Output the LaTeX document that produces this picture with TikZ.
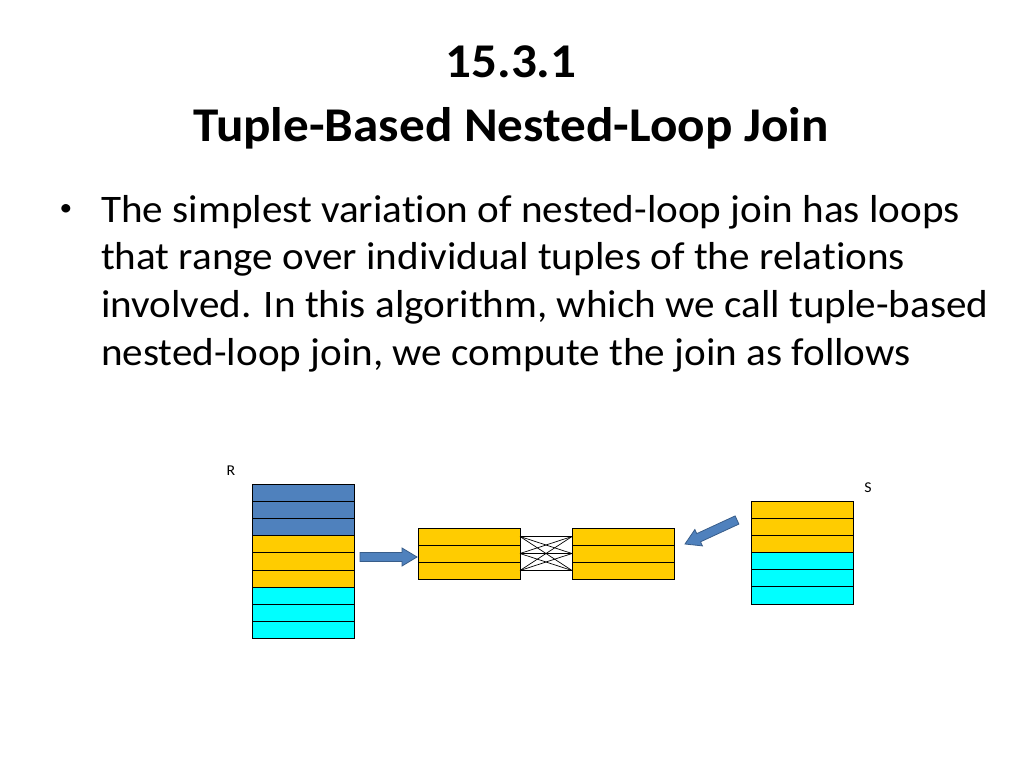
\documentclass[tikz,border=0pt]{standalone}
\usepackage{fontspec}
\setmainfont[FakeStretch=1.055, Ligatures=NoCommon]{Carlito}
\usetikzlibrary{calc}
\definecolor{tblue}{HTML}{4F81BD}
\definecolor{tblueline}{HTML}{385D8A}
\definecolor{tgold}{HTML}{FFCC00}
\definecolor{tcyan}{HTML}{00FFFF}
\tikzset{
  row/.style={draw=black, line width=0.9pt, minimum width=102pt, minimum height=17.2pt, inner sep=0pt, outer sep=0pt},
  bodytext/.style={anchor=base west, inner sep=0pt, font=\fontsize{39}{47}\selectfont},
  titletext/.style={anchor=base, inner sep=0pt, font=\fontsize{48.5}{56}\selectfont\bfseries},
  lbl/.style={inner sep=0pt, font=\fontsize{15}{18}\selectfont},
  bulletmark/.style={inner sep=0pt, font=\fontsize{24}{26}\selectfont},
  blockarrow/.style={fill=tblue, draw=tblueline, line width=0.8pt, line join=miter},
  cross/.style={draw=black, line width=0.7pt}
}
\newcommand{\blkarrow}[2]{%
  \coordinate (ba-h) at ($(#2)!15pt!(#1)$);
  \path[blockarrow] ($(#1)!4.5pt!90:(#2)$) -- ($(ba-h)!4.5pt!-90:(#1)$) -- ($(ba-h)!9pt!-90:(#1)$) -- (#2)
     -- ($(ba-h)!9pt!90:(#1)$) -- ($(ba-h)!4.5pt!90:(#1)$) -- ($(#1)!4.5pt!-90:(#2)$) -- cycle;}
\begin{document}
\begin{tikzpicture}[x=1pt,y=-1pt]
\useasboundingbox[fill=white] (0,0) rectangle (1024,768);
% title
\node[titletext] (t1) at (511,77.5) {15.3.1};
\node[titletext] (t2) at (511,141) {Tuple-Based Nested-Loop Join};
% bullet
\node[bulletmark] (bul) at (66,210) {•};
\node[bodytext] (l1) at (101,222) {The simplest variation of nested-loop join has loops};
\node[bodytext] (l2) at (101,269.7) {that range over individual tuples of the relations};
\node[bodytext] (l3) at (101,317.3) {involved. In this algorithm, which we call tuple-based};
\node[bodytext] (l4) at (101,365) {nested-loop join, we compute the join as follows};
% R stack
\foreach \i/\c in {1/tblue,2/tblue,3/tblue,4/tgold,5/tgold,6/tgold,7/tcyan,8/tcyan,9/tcyan}{
  \node[row, fill=\c] (r\i) at (303, {484+8.6+(\i-1)*17.2}) {};
}
\node[lbl] (rlab) at (231,471) {R};
% S stack
\foreach \i/\c in {1/tgold,2/tgold,3/tgold,4/tcyan,5/tcyan,6/tcyan}{
  \node[row, fill=\c] (s\i) at (802, {502+8.5+(\i-1)*17}) {};
}
\node[lbl] (slab) at (868,488) {S};
% buffers
\foreach \i in {1,2,3}{
  \node[row, fill=tgold, minimum height=17pt] (lb\i) at (469, {528+8.5+(\i-1)*17}) {};
  \node[row, fill=tgold, minimum height=17pt] (rb\i) at (623, {528+8.5+(\i-1)*17}) {};
}
% cross connections
\foreach \i in {1,2,3}{
  \foreach \j in {1,2,3}{
    \draw[cross] (lb\i.east) -- (rb\j.west);
  }
}
% block arrows
\coordinate (a1t) at (360,557);
\coordinate (a1h) at (417,557);
\blkarrow{a1t}{a1h}
\coordinate (a2t) at (737,520);
\coordinate (a2h) at (685,544);
\blkarrow{a2t}{a2h}
\end{tikzpicture}
\end{document}
